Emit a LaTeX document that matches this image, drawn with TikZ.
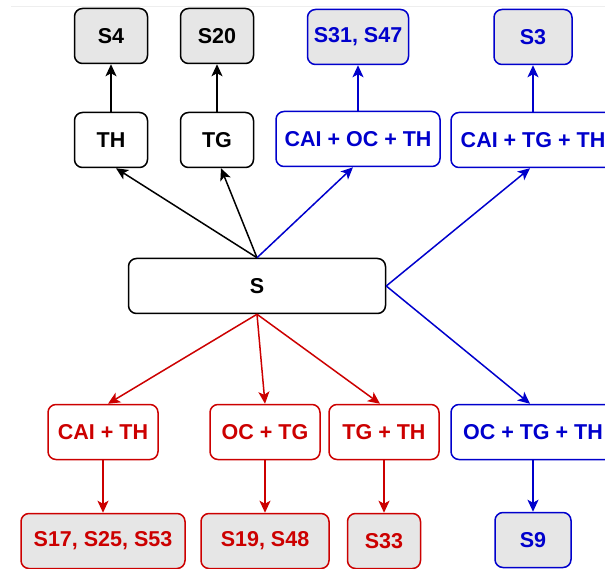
\documentclass[tikz,border=0pt]{standalone}
\usepackage{fontspec}
\setmainfont{Liberation Sans}
\definecolor{pathblue}{RGB}{0,0,204}
\definecolor{pathred}{RGB}{204,0,0}
\definecolor{leafgray}{RGB}{230,230,230}
\definecolor{rulegray}{RGB}{238,238,238}
\usetikzlibrary{shapes,arrows.meta,positioning,calc}

\begin{document}
\begin{tikzpicture}[x=1pt, y=-1pt,
    combo/.style={rectangle, draw, rounded corners=8pt, line width=1.5pt, inner sep=0pt,
        minimum height=55pt, font=\bfseries\fontsize{21.5}{25}\selectfont},
    leaf/.style={combo, fill=leafgray},
    link/.style={-{Stealth[length=12pt,width=11pt,inset=3pt]}, line width=1.5pt}
]
    \useasboundingbox (0,0) rectangle (605,569);
    \draw[rulegray, line width=1pt] (11,7) -- (605,7);

    % Root
    \node[combo, minimum width=257pt] (root) at (257,286) {S};

    % Upper combinations
    \node[combo, minimum width=73pt] (th) at (111,140) {TH};
    \node[combo, minimum width=73pt] (tg) at (217,140) {TG};
    \node[combo, draw=pathblue, text=pathblue, minimum width=164pt] (caiocth) at (358,139) {CAI + OC + TH};
    \node[combo, draw=pathblue, text=pathblue, minimum width=164pt] (caitgth) at (533,140) {CAI + TG + TH};

    % Upper leaves
    \node[leaf, minimum width=73pt] (s4) at (111,36) {S4};
    \node[leaf, minimum width=73pt] (s20) at (217,36) {S20};
    \node[leaf, draw=pathblue, text=pathblue, minimum width=101pt] (s31) at (358,37) {S31, S47};
    \node[leaf, draw=pathblue, text=pathblue, minimum width=78pt] (s3) at (533,37) {S3};

    % Lower combinations
    \node[combo, draw=pathred, text=pathred, minimum width=110pt] (caith) at (103,432) {CAI + TH};
    \node[combo, draw=pathred, text=pathred, minimum width=110pt] (octg) at (265,432) {OC + TG};
    \node[combo, draw=pathred, text=pathred, minimum width=110pt] (tgth) at (384,432) {TG + TH};
    \node[combo, draw=pathblue, text=pathblue, minimum width=164pt] (octgth) at (533,432) {OC + TG + TH};

    % Lower leaves
    \node[leaf, draw=pathred, text=pathred, minimum width=164pt] (s17) at (103,541) {S17, S25, S53};
    \node[leaf, draw=pathred, text=pathred, minimum width=128pt] (s19) at (265,541) {S19, S48};
    \node[leaf, draw=pathred, text=pathred, minimum width=73pt] (s33) at (384,541) {S33};
    \node[leaf, draw=pathblue, text=pathblue, minimum width=76pt] (s9) at (533,540) {S9};

    % Arrows from root
    \draw[link] (root.north) -- ($(th.south)+(5,0)$);
    \draw[link] (root.north) -- ($(tg.south)+(4,0)$);
    \draw[link, pathblue] (root.north) -- ($(caiocth.south)+(-5,0)$);
    \draw[link, pathblue] (root.east) -- ($(caitgth.south)+(-3,0)$);
    \draw[link, pathblue] (root.east) -- ($(octgth.north)+(-3,0)$);
    \draw[link, pathred] (root.south) -- ($(caith.north)+(5,0)$);
    \draw[link, pathred] (root.south) -- (octg.north);
    \draw[link, pathred] (root.south) -- ($(tgth.north)+(-4,0)$);

    % Arrows to leaves
    \draw[link] (th) -- (s4);
    \draw[link] (tg) -- (s20);
    \draw[link, pathblue] (caiocth) -- (s31);
    \draw[link, pathblue] (caitgth) -- (s3);
    \draw[link, pathred] (caith) -- (s17);
    \draw[link, pathred] (octg) -- (s19);
    \draw[link, pathred] (tgth) -- (s33);
    \draw[link, pathblue] (octgth) -- (s9);
\end{tikzpicture}
\end{document}
